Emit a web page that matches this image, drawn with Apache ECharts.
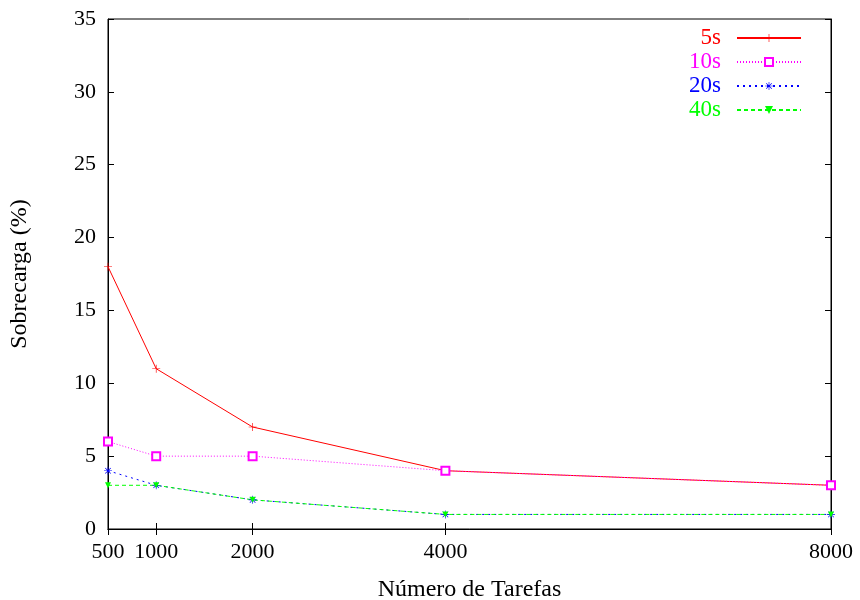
<!DOCTYPE html>
<html><head><meta charset="utf-8">
<script src="https://cdn.jsdelivr.net/npm/echarts@6/dist/echarts.min.js"></script>
<style>html,body{margin:0;padding:0;background:#fff}#c{width:860px;height:600px}</style>
</head><body><div id="c"></div>
<script>
const tasks = [500, 1000, 2000, 4000, 8000];
const s5 = [18, 11, 7, 4, 3];
const s10 = [6, 5, 5, 4, 3];
const s20 = [4, 3, 2, 1, 1];
const s40 = [3, 3, 2, 1, 1];
const xTicks = [500, 1000, 2000, 4000, 8000];
const seriesNames = ['5s', '10s', '20s', '40s'];

const FONT = 'Liberation Serif';
const plus = 'path://M4.6,0H5.4V4.6H10V5.4H5.4V10H4.6V5.4H0V4.6H4.6Z';
const star = 'path://M4.6,0H5.4V4.6H10V5.4H5.4V10H4.6V5.4H0V4.6H4.6Z M1.2,1.8L1.8,1.2L8.8,8.2L8.2,8.8Z M8.2,1.2L8.8,1.8L1.8,8.8L1.2,8.2Z';
const tri = 'path://M0,0L10,0L5,8Z';

function pairs(v){ return tasks.map((t,i)=>[t, v[i]]); }

const chart = echarts.init(document.getElementById('c'));
const axisBase = {
  axisLine: {show: true, lineStyle: {color: '#000', width: 1}},
  splitLine: {show: false}
};
const plain = v => String(v);
chart.setOption({
  animation: false,
  grid: {left: 108, right: 29, top: 19, bottom: 71, show: true, borderColor: '#000', borderWidth: 1,
    containLabel: false, outerBoundsMode: 'none'},
  xAxis: [
    Object.assign({type: 'value', min: 500, max: 8000, position: 'bottom',
      name: 'Número de Tarefas', nameLocation: 'middle', nameGap: 49,
      nameTextStyle: {fontFamily: FONT, fontSize: 24, color: '#000'},
      axisTick: {show: true, inside: true, length: 6, customValues: xTicks, lineStyle: {color: '#000'}},
      axisLabel: {show: true, customValues: xTicks, margin: 12, fontFamily: FONT, fontSize: 22, color: '#000',
        formatter: plain, showMinLabel: true, showMaxLabel: true}
    }, axisBase),
    Object.assign({type: 'value', min: 500, max: 8000, position: 'top',
      axisTick: {show: true, inside: true, length: 6, customValues: xTicks, lineStyle: {color: '#000'}},
      axisLabel: {show: false}
    }, axisBase)
  ],
  yAxis: [
    Object.assign({type: 'value', min: 0, max: 35, interval: 5, position: 'left',
      name: 'Sobrecarga (%)', nameLocation: 'middle', nameGap: 76, nameRotate: 90,
      nameTextStyle: {fontFamily: FONT, fontSize: 24, color: '#000'},
      axisTick: {show: true, inside: true, length: 6, lineStyle: {color: '#000'}},
      axisLabel: {margin: 12, fontFamily: FONT, fontSize: 22, color: '#000', formatter: plain}
    }, axisBase),
    Object.assign({type: 'value', min: 0, max: 35, interval: 5, position: 'right',
      axisTick: {show: true, inside: true, length: 6, lineStyle: {color: '#000'}},
      axisLabel: {show: false}
    }, axisBase)
  ],
  legend: {
    orient: 'vertical', right: 53, top: 21, align: 'right',
    itemWidth: 64, itemHeight: 10, itemGap: 0,
    textStyle: {fontFamily: FONT, fontSize: 23, lineHeight: 24, padding: [0, 11, 0, 0]},
    data: [
      {name: '5s', textStyle: {color: '#ff0000'}},
      {name: '10s', textStyle: {color: '#ff00ff'}},
      {name: '20s', textStyle: {color: '#0000ff'}},
      {name: '40s', textStyle: {color: '#00ff00'}}
    ]
  },
  series: [
    {name: seriesNames[0], type: 'line', data: pairs(s5), symbol: plus, symbolSize: 8,
      itemStyle: {color: '#ff0000'}, lineStyle: {color: '#ff0000', width: 1, type: 'solid'}},
    {name: seriesNames[1], type: 'line', data: pairs(s10), symbol: 'emptyRect', symbolSize: 8,
      itemStyle: {color: '#ff00ff', borderColor: '#ff00ff', borderWidth: 1},
      lineStyle: {color: '#ff00ff', width: 1, type: [1, 2]}},
    {name: seriesNames[2], type: 'line', data: pairs(s20), symbol: star, symbolSize: 8,
      itemStyle: {color: '#0000ff'}, lineStyle: {color: '#0000ff', width: 1, type: [2, 4]}},
    {name: seriesNames[3], type: 'line', data: pairs(s40), symbol: tri, symbolSize: 6,
      itemStyle: {color: '#00ff00'}, lineStyle: {color: '#00ff00', width: 1, type: [4, 3]}}
  ]
});
</script></body></html>
